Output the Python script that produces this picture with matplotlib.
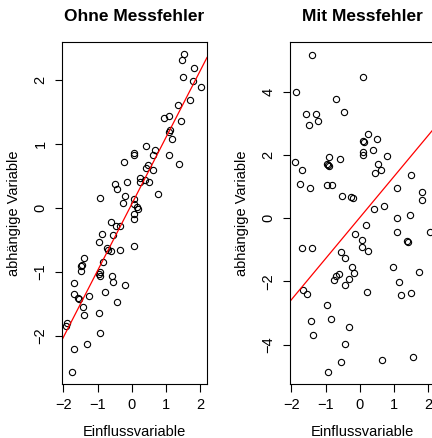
import matplotlib
matplotlib.use("Agg")
import matplotlib.pyplot as plt

plt.rcParams['font.family'] = ['Liberation Sans', 'DejaVu Sans']

# Ohne Messfehler
x_ohne = [1.52, 1.48, 1.82, 1.49, 1.78, 2.03, 1.71, 1.36, 0.93, 1.09,
          1.45, 1.10, 1.13, 1.18, 0.42, 0.08, 0.06, 0.68, 0.63, 1.08,
          -0.23, 0.48, 0.42, 0.63, 1.39, 0.23, 0.38, 0.23, 0.50, -0.48,
          -0.15, -0.44, 0.77, -0.19, -0.94, 0.08, -0.25, 0.07, 0.15, 0.17,
          0.07, 0.06, -0.62, -0.46, -0.34, -0.86, -0.56, -0.97, 0.07, -0.72,
          -0.69, -0.60, -0.33, -1.39, -0.83, -1.49, -1.45, -1.47, -0.92, -0.97,
          -0.94, -0.58, -0.54, -1.70, -0.19, -1.70, -0.78, -1.57, -1.55, -1.25,
          -0.44, -1.42, -1.41, -0.96, -1.88, -1.91, -0.92, -1.68, -1.30, -1.76]
y_ohne = [2.40, 2.31, 2.18, 2.04, 1.98, 1.88, 1.68, 1.60, 1.40, 1.44,
          1.36, 1.18, 1.21, 1.08, 0.96, 0.86, 0.82, 0.90, 0.82, 0.82,
          0.71, 0.67, 0.62, 0.59, 0.68, 0.46, 0.44, 0.41, 0.40, 0.38,
          0.41, 0.30, 0.21, 0.19, 0.15, 0.14, 0.08, 0.06, 0.01, -0.01,
          -0.10, -0.18, -0.22, -0.29, -0.28, -0.41, -0.42, -0.53, -0.59, -0.63,
          -0.65, -0.67, -0.65, -0.79, -0.84, -0.91, -0.89, -0.99, -1.00, -1.04,
          -1.07, -1.07, -1.16, -1.17, -1.21, -1.34, -1.32, -1.41, -1.42, -1.38,
          -1.47, -1.55, -1.67, -1.64, -1.79, -1.85, -1.95, -2.20, -2.13, -2.56]

# Mit Messfehler
x_mit = [-1.39, -1.87, 0.09, -0.70, -0.46, -1.56, -1.29, -1.23, -1.47, 0.25,
         0.10, 0.11, 0.51, 0.40, 0.08, 0.08, 0.79, -1.88, -0.89, -0.95,
         -0.91, -0.93, -0.59, -1.70, 0.52, 0.44, 0.63, 1.51, -1.74, -1.45,
         -0.95, -0.81, 1.10, 1.81, 1.83, -0.53, -0.25, -0.19, 0.70, 0.43,
         1.47, 1.10, 0.19, -0.13, 1.10, 2.04, 0.07, 1.39, 1.41, -1.68,
         -1.40, 0.07, 0.25, -0.56, -0.43, -0.22, 0.96, -0.18, 1.72, -0.60,
         -0.70, -0.76, -0.31, 1.14, -0.43, 0.20, -1.67, -1.55, 1.20, 1.51,
         -0.95, -1.44, -0.85, -0.32, -1.37, -0.42, -0.54, 0.64, 1.55, -0.92]
y_mit = [5.18, 4.00, 4.46, 3.78, 3.36, 3.30, 3.30, 3.08, 2.95, 2.67,
         2.43, 2.42, 2.51, 2.15, 2.09, 2.01, 1.98, 1.78, 1.95, 1.72,
         1.65, 1.69, 1.86, 1.53, 1.72, 1.43, 1.53, 1.38, 1.08, 0.95,
         1.06, 1.05, 0.97, 0.84, 0.58, 0.70, 0.66, 0.65, 0.40, 0.28,
         0.09, 0.00, -0.21, -0.51, -0.44, -0.44, -0.70, -0.72, -0.74, -0.94,
         -0.95, -0.90, -1.03, -1.08, -1.26, -1.54, -1.55, -1.72, -1.69, -1.78,
         -1.84, -1.96, -1.92, -2.01, -2.11, -2.34, -2.28, -2.41, -2.42, -2.38,
         -2.76, -3.25, -3.19, -3.43, -3.71, -3.98, -4.55, -4.50, -4.39, -4.86]

# Regressionsgeraden (Achsenabschnitt, Steigung)
fit_ohne = (0.06, 1.04)
fit_mit = (0.02, 1.30)

titles = ["Ohne Messfehler", "Mit Messfehler"]
xticks = [-2, -1, 0, 1, 2]
yticks_ohne = [-2, -1, 0, 1, 2]
yticks_mit = [-4, -2, 0, 2, 4]

W, H = 432, 438
fig = plt.figure(figsize=(W / 100, H / 100), dpi=100)

panels = [
    (62, x_ohne, y_ohne, fit_ohne, yticks_ohne, (-2.04, 2.2), (-2.75, 2.59)),
    (290, x_mit, y_mit, fit_mit, yticks_mit, (-2.04, 2.2), (-5.25, 5.58)),
]

for i, (left, xs, ys, fit, yt, xl, yl) in enumerate(panels):
    ax = fig.add_axes([left / W, 54 / H, 145 / W, 342 / H])
    ax.plot(xs, ys, 'o', mfc='none', mec='black', ms=4.5, mew=0.8)
    ax.axline((0, fit[0]), slope=fit[1], color='red', lw=0.9)
    ax.set_xlim(*xl)
    ax.set_ylim(*yl)
    ax.set_xticks(xticks)
    ax.set_yticks(yt)
    ax.set_xticklabels([str(t).replace('-', '\u2212') for t in xticks])
    ax.set_yticklabels([str(t).replace('-', '\u2212') for t in yt],
                       rotation=90, va='center')
    ax.tick_params(direction='out', length=5.4, width=0.8, labelsize=10.5,
                   pad=5)
    for s in ax.spines.values():
        s.set_linewidth(0.8)
    ax.set_title(titles[i], fontsize=12.5, fontweight='bold', pad=15)
    ax.set_xlabel("Einflussvariable", fontsize=10.5, labelpad=9)
    ax.set_ylabel("abhängige Variable", fontsize=10.5, labelpad=9)

fig.savefig("out.png", dpi=100)
